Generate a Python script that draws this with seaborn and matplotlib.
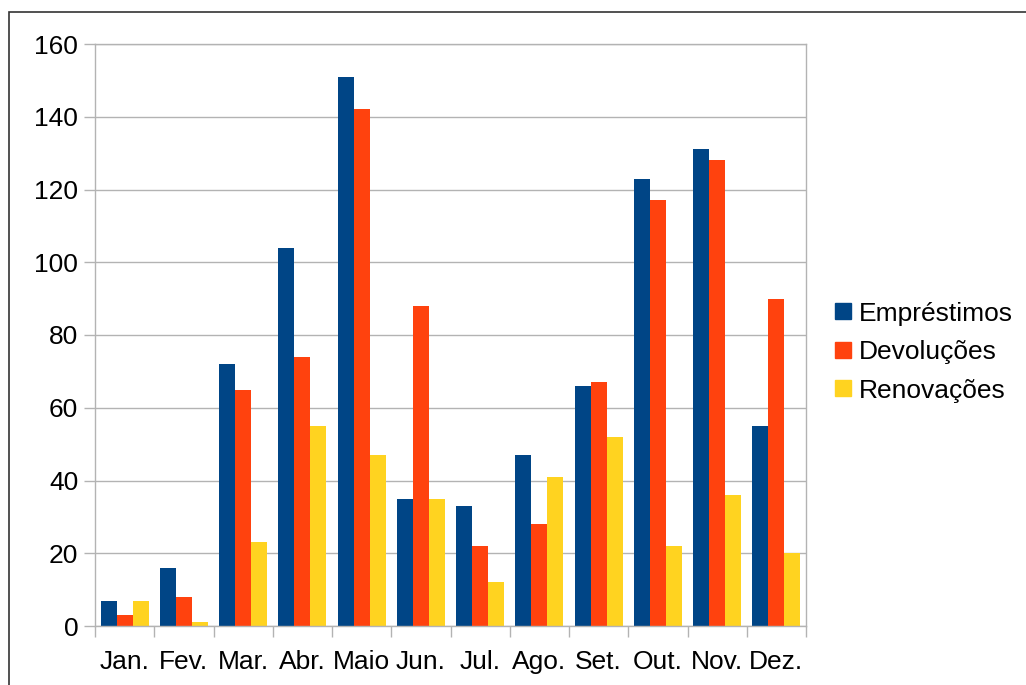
import pandas as pd
import numpy as np
import matplotlib
matplotlib.use("Agg")
import matplotlib.pyplot as plt
import seaborn as sns
from matplotlib.patches import Rectangle
from matplotlib.lines import Line2D

meses = ['Jan.', 'Fev.', 'Mar.', 'Abr.', 'Maio', 'Jun.', 'Jul.', 'Ago.', 'Set.', 'Out.', 'Nov.', 'Dez.']
emprestimos = [7, 16, 72, 104, 151, 35, 33, 47, 66, 123, 131, 55]
devolucoes = [3, 8, 65, 74, 142, 88, 22, 28, 67, 117, 128, 90]
renovacoes = [7, 1, 23, 55, 47, 35, 12, 41, 52, 22, 36, 20]
series = ['Empréstimos', 'Devoluções', 'Renovações']
cores = ['#004586', '#ff420e', '#ffd320']

df = pd.DataFrame({'Mês': meses * 3,
                   'Valor': emprestimos + devolucoes + renovacoes,
                   'Série': [s for s in series for _ in meses]})

sns.set_style("white")
plt.rcParams['font.family'] = ['Liberation Sans', 'DejaVu Sans']
plt.rcParams['text.color'] = 'black'
plt.rcParams['xtick.color'] = 'black'
plt.rcParams['ytick.color'] = 'black'

fig = plt.figure(figsize=(10.26, 6.85), dpi=100)
ax = fig.add_axes([95 / 1026, 59 / 685, 711 / 1026, 582 / 685])

sns.barplot(data=df, x='Mês', y='Valor', hue='Série', palette=cores,
            width=0.81, saturation=1, ax=ax, legend=False, linewidth=0)

ax.set_ylim(0, 160)
ax.set_xlim(-0.5, 11.5)
ax.set_yticks(range(0, 161, 20))
ax.yaxis.grid(True, color='#b3b3b3', linewidth=1)
ax.set_axisbelow(True)
ax.set_xlabel('')
ax.set_ylabel('')
for s in ax.spines.values():
    s.set_color('#b3b3b3')
    s.set_linewidth(1)
ax.tick_params(axis='y', length=8, width=1, color='#b3b3b3', labelcolor='black',
               labelsize=19, pad=4, left=True)
ax.tick_params(axis='x', which='major', length=0, labelcolor='black', labelsize=19, pad=17)
ax.set_xticks(np.arange(-0.5, 12, 1), minor=True)
ax.tick_params(axis='x', which='minor', length=8, width=1, color='#b3b3b3', bottom=True)

handles = [Line2D([0], [0], marker='s', linestyle='', markersize=11,
                  markerfacecolor=c, markeredgecolor=c) for c in cores]
fig.legend(handles, series, loc='center left', bbox_to_anchor=(0.783, 0.486),
           frameon=False, fontsize=19, handletextpad=0.0, labelspacing=0.55,
           handlelength=1.2, labelcolor='black')

fig.patches.append(Rectangle((9 / 1026, -0.05), 1.1, (685 - 12) / 685 + 0.05,
                             transform=fig.transFigure, fill=False,
                             edgecolor='#333333', linewidth=1.2))

fig.savefig('out.png', dpi=100)
